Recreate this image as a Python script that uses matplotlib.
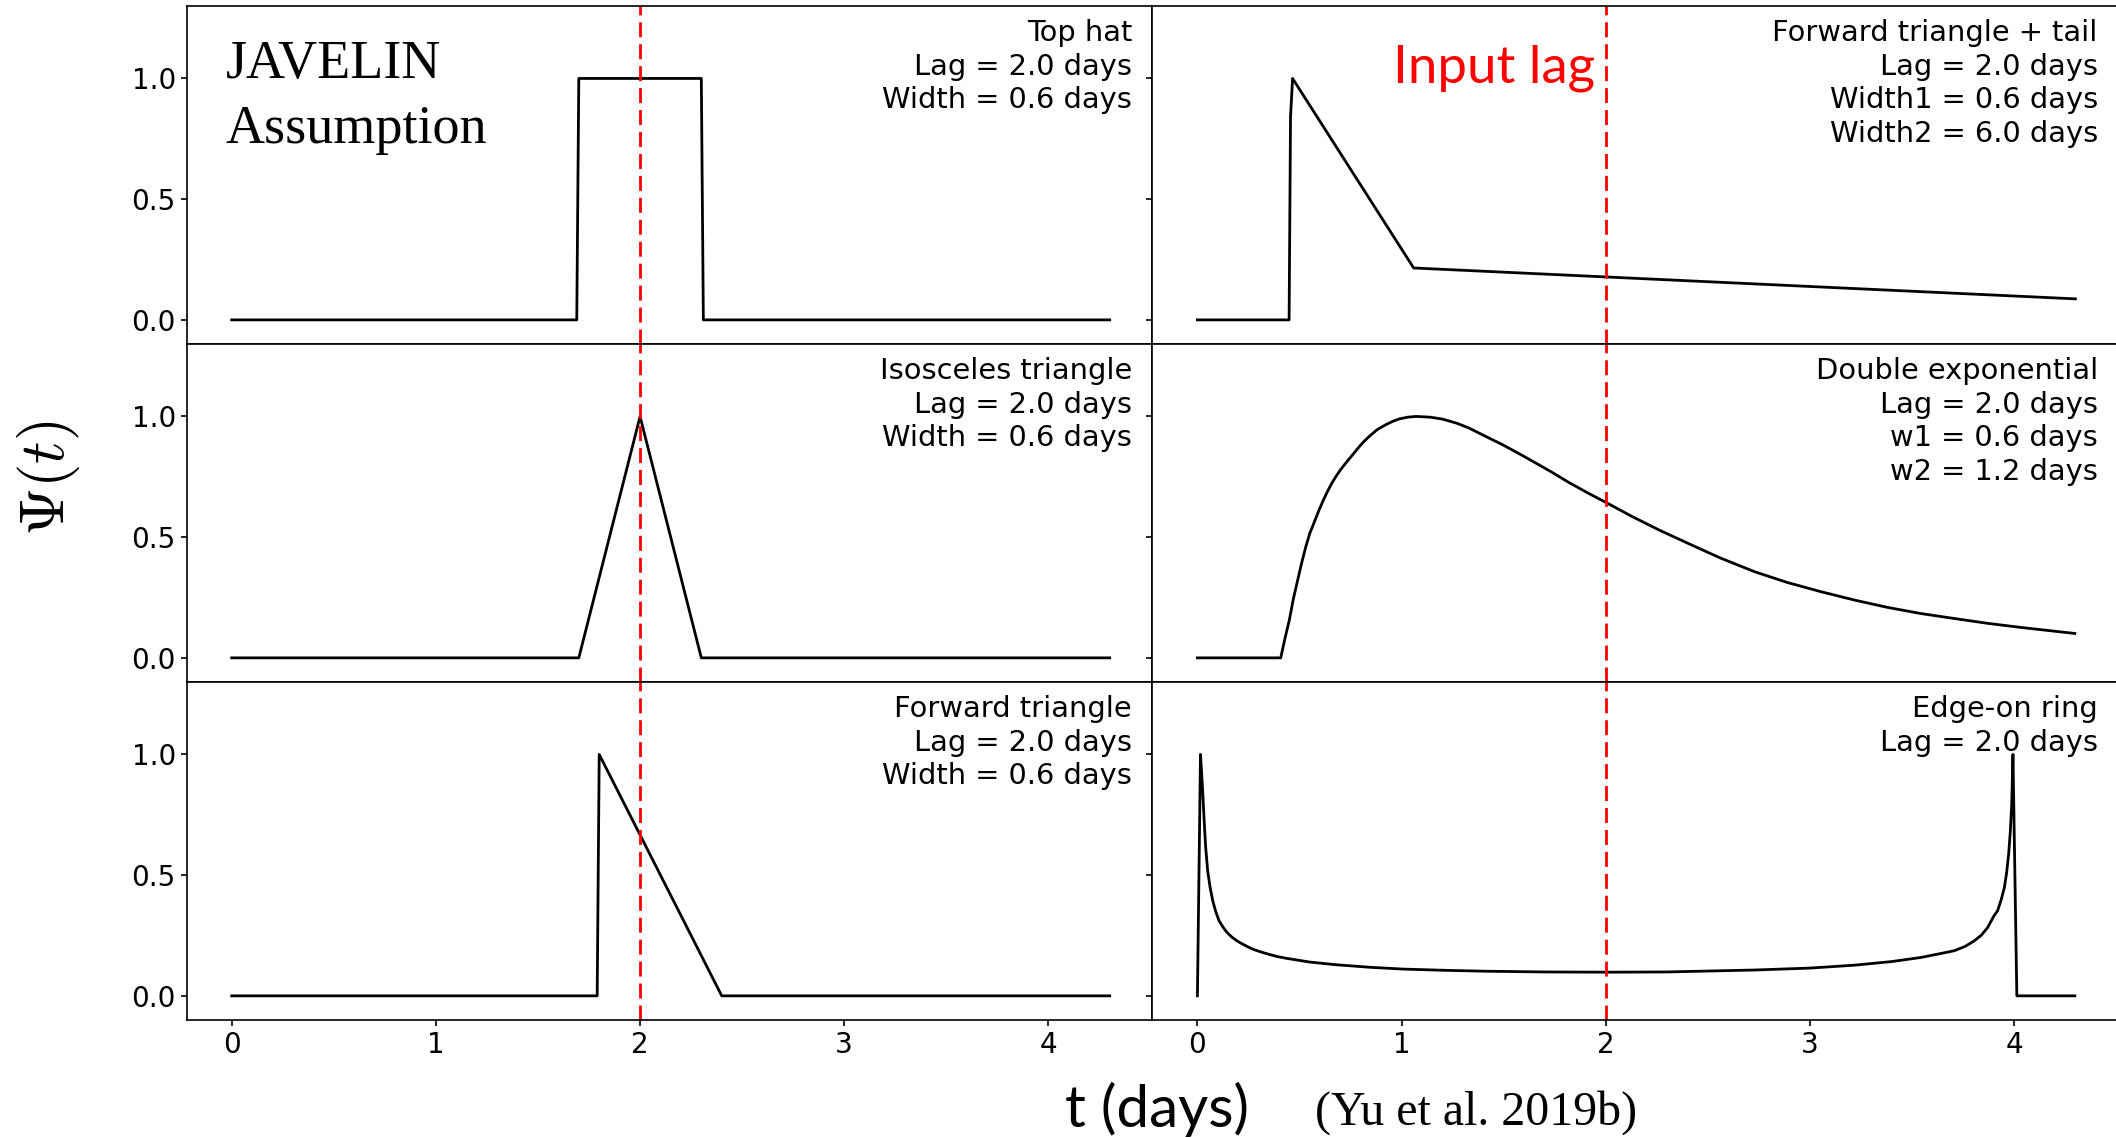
import matplotlib
matplotlib.use("Agg")
import matplotlib.pyplot as plt

# tempos (dias) e valores de Psi(t) de cada funcao de transferencia
t_tophat = [0.0, 1.69, 1.70, 2.30, 2.31, 4.3]
psi_tophat = [0.0, 0.0, 1.0, 1.0, 0.0, 0.0]

t_iso = [0.0, 1.70, 2.00, 2.30, 4.3]
psi_iso = [0.0, 0.0, 1.0, 0.0, 0.0]

t_fwd = [0.0, 1.79, 1.80, 2.40, 4.3]
psi_fwd = [0.0, 0.0, 1.0, 0.0, 0.0]

t_fwdtail = [0.0, 0.449, 0.456, 0.466, 1.059, 4.30]
psi_fwdtail = [0.0, 0.0, 0.84, 1.0, 0.215, 0.087]

t_dexp = [0.0, 0.408, 0.43, 0.45, 0.47, 0.491, 0.511, 0.531, 0.55, 0.575, 0.596, 0.615,
          0.635, 0.656, 0.678, 0.70, 0.72, 0.74, 0.76, 0.78, 0.80, 0.82, 0.841, 0.88,
          0.923, 0.96, 0.99, 1.03, 1.07, 1.14, 1.20, 1.27, 1.33, 1.41, 1.494, 1.575,
          1.657, 1.74, 1.82, 1.91, 2.007, 2.13, 2.26, 2.401, 2.56, 2.728, 2.89, 3.054,
          3.22, 3.38, 3.54, 3.707, 3.87, 4.033, 4.297]
psi_dexp = [0.0, 0.0, 0.085, 0.156, 0.245, 0.322, 0.395, 0.461, 0.515, 0.568, 0.613, 0.650,
            0.686, 0.720, 0.751, 0.778, 0.80, 0.821, 0.841, 0.862, 0.882, 0.900, 0.917, 0.945,
            0.966, 0.981, 0.99, 0.997, 1.0, 0.997, 0.989, 0.972, 0.952, 0.918, 0.883, 0.846,
            0.807, 0.767, 0.726, 0.684, 0.641, 0.585, 0.530, 0.475, 0.414, 0.357, 0.312, 0.274,
            0.239, 0.209, 0.184, 0.163, 0.143, 0.126, 0.101]

t_ring = [0.0, 0.015, 0.02, 0.025, 0.033, 0.04, 0.05, 0.062, 0.075, 0.09, 0.106, 0.125,
          0.14, 0.155, 0.171, 0.195, 0.22, 0.245, 0.269, 0.31, 0.35, 0.39, 0.432, 0.55,
          0.677, 0.85, 1.004, 1.2, 1.412, 1.7, 2.007, 2.3, 2.728, 3.0, 3.217, 3.4, 3.543,
          3.65, 3.707, 3.76, 3.805, 3.84, 3.87, 3.90, 3.919, 3.937, 3.952, 3.963, 3.973,
          3.981, 3.988, 3.994, 4.013, 4.297]
psi_ring = [0.0, 1.0, 0.93, 0.86, 0.726, 0.62, 0.519, 0.45, 0.394, 0.348, 0.311, 0.285,
            0.268, 0.254, 0.242, 0.227, 0.215, 0.204, 0.194, 0.182, 0.172, 0.163, 0.156, 0.140,
            0.129, 0.118, 0.111, 0.106, 0.102, 0.099, 0.098, 0.099, 0.107, 0.115, 0.127, 0.142,
            0.159, 0.177, 0.187, 0.205, 0.228, 0.252, 0.283, 0.33, 0.353, 0.40, 0.449, 0.51,
            0.588, 0.68, 0.795, 1.0, 0.0, 0.0]

paineis = [
    (t_tophat, psi_tophat, "Top hat\nLag = 2.0 days\nWidth = 0.6 days"),
    (t_fwdtail, psi_fwdtail, "Forward triangle + tail\nLag = 2.0 days\nWidth1 = 0.6 days\nWidth2 = 6.0 days"),
    (t_iso, psi_iso, "Isosceles triangle\nLag = 2.0 days\nWidth = 0.6 days"),
    (t_dexp, psi_dexp, "Double exponential\nLag = 2.0 days\nw1 = 0.6 days\nw2 = 1.2 days"),
    (t_fwd, psi_fwd, "Forward triangle\nLag = 2.0 days\nWidth = 0.6 days"),
    (t_ring, psi_ring, "Edge-on ring\nLag = 2.0 days"),
]

lag = 2.0
xticks = [0, 1, 2, 3, 4]
yticks = [0.0, 0.5, 1.0]

plt.rcParams['mathtext.fontset'] = 'cm'

fig, axes = plt.subplots(3, 2, figsize=(21.16, 11.38), dpi=100, sharex=True, sharey=True)
fig.subplots_adjust(left=0.0882, right=1.001, top=0.9947, bottom=0.1037, wspace=0, hspace=0)

for i, (ax, (t, psi, texto)) in enumerate(zip(axes.flat, paineis)):
    ax.plot(t, psi, color='black', lw=2.0)
    ax.axvline(lag, color='red', lw=2.0, dashes=(5.4, 2.5))
    ax.text(0.979, 0.962, texto, transform=ax.transAxes, ha='right', va='top',
            fontsize=20.8, family='DejaVu Sans', linespacing=1.26)
    ax.set_ylim(-0.1, 1.3)
    ax.set_xticks(xticks)
    ax.set_yticks(yticks)
    ax.tick_params(labelsize=20, length=4.3, width=1.2, direction='out')
    if i < 4:
        ax.tick_params(axis='x', bottom=False)
    for s in ax.spines.values():
        s.set_linewidth(1.2)

axes[0, 0].set_xlim(-0.2206, 4.509)

axes[0, 0].text(0.0403, 0.90, "JAVELIN\nAssumption", transform=axes[0, 0].transAxes,
                ha='left', va='top', fontsize=39, family='Liberation Serif', linespacing=1.37)
axes[0, 1].text(0.249, 0.775, "Input lag", transform=axes[0, 1].transAxes,
                ha='left', va='baseline', fontsize=38, family='Lato', color='red')

fig.text(48 / 2116, 1 - 478 / 1138, r'$\Psi(t)$', rotation=90, ha='center', va='center',
         fontsize=45)
fig.text(1157 / 2116, 1 - 1127 / 1138, "t (days)", ha='center', va='baseline',
         fontsize=42, family='Lato')
fig.text(1315 / 2116, 1 - 1125 / 1138, "(Yu et al. 2019b)", ha='left', va='baseline',
         fontsize=34.5, family='Liberation Serif')

fig.savefig("out.png", dpi=100)
